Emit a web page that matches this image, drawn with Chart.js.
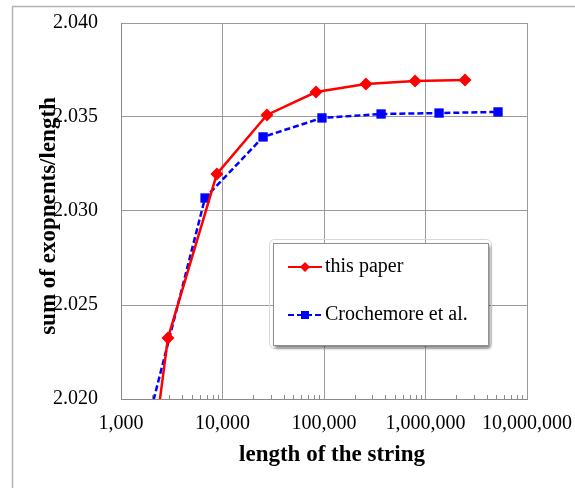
<!DOCTYPE html>
<html>
<head>
<meta charset="utf-8">
<script src="https://cdn.jsdelivr.net/npm/chart.js@4.4.0/dist/chart.umd.min.js"></script>
<style>
  html, body { margin: 0; padding: 0; background: #fff; }
</style>
</head>
<body>
<canvas id="expChart" width="575" height="488"></canvas>
<script>
// string lengths and sum of exponents / length
const paperLengths = [950, 2900, 8800, 27400, 83400, 259000, 789000, 2450000];
const paperValues = [2.0032, 2.02324, 2.03197, 2.03511, 2.03633, 2.03676, 2.03691, 2.03697];
const crochLengths = [1800, 6730, 25100, 95500, 365000, 1360000, 5180000];
const crochValues = [2.01856, 2.03069, 2.03394, 2.03495, 2.03516, 2.03521, 2.03527];

const xTicks = [1000, 10000, 100000, 1000000, 10000000];
const seriesNames = ['this paper', 'Crochemore et al.'];
const xTitle = 'length of the string';
const yTitle = 'sum of exopnents/length';

const FONT = '"Liberation Serif", "Times New Roman", serif';
const RED = '#ff0000';
const BLUE = '#0000ff';

function toPoints(xs, ys) {
    return xs.map((x, i) => ({ x: x, y: ys[i] }));
}

// frame, minor ticks, axis titles and the boxed legend
const decorations = {
    id: 'decorations',
    beforeDraw(chart) {
        const ctx = chart.ctx;
        ctx.save();
        ctx.strokeStyle = '#b4b4b4';
        ctx.lineWidth = 1.5;
        ctx.beginPath();
        ctx.moveTo(12.5, 488);
        ctx.lineTo(12.5, 6.5);
        ctx.lineTo(575, 6.5);
        ctx.stroke();
        ctx.restore();
    },
    afterDraw(chart) {
        const ctx = chart.ctx;
        const area = chart.chartArea;
        const xs = chart.scales.x;

        // minor ticks on the log axis
        ctx.save();
        ctx.strokeStyle = '#8c8c8c';
        ctx.lineWidth = 1;
        ctx.beginPath();
        for (let p = 3; p < 7; p++) {
            for (let m = 2; m <= 9; m++) {
                const px = Math.round(xs.getPixelForValue(m * Math.pow(10, p))) + 0.5;
                ctx.moveTo(px, area.bottom);
                ctx.lineTo(px, area.bottom - 4);
            }
        }
        ctx.stroke();

        // axis titles
        ctx.fillStyle = '#000';
        ctx.font = 'bold 23px ' + FONT;
        ctx.textAlign = 'center';
        ctx.textBaseline = 'alphabetic';
        ctx.fillText(xTitle, 332, 461);
        ctx.translate(55, 216);
        ctx.rotate(-Math.PI / 2);
        ctx.fillText(yTitle, 0, 0);
        ctx.restore();

        // legend box
        const bx = 273, by = 243, bw = 215, bh = 102;
        ctx.save();
        ctx.strokeStyle = '#d8d8d8';
        ctx.lineWidth = 1;
        ctx.beginPath();
        ctx.roundRect(bx - 3.5, by - 3.5, bw + 7, bh + 7, 5);
        ctx.stroke();
        ctx.shadowColor = 'rgba(0,0,0,0.55)';
        ctx.shadowOffsetX = 2;
        ctx.shadowOffsetY = 3;
        ctx.shadowBlur = 3;
        ctx.fillStyle = '#fff';
        ctx.fillRect(bx, by, bw, bh);
        ctx.shadowColor = 'transparent';
        ctx.strokeStyle = '#909090';
        ctx.strokeRect(bx + 0.5, by + 0.5, bw, bh);

        const rows = [
            { y: 267, color: RED, dash: [], marker: 'diamond' },
            { y: 315, color: BLUE, dash: [6, 3], marker: 'square' }
        ];
        rows.forEach((r, i) => {
            ctx.strokeStyle = r.color;
            ctx.fillStyle = r.color;
            ctx.lineWidth = 2.2;
            ctx.setLineDash(r.dash);
            ctx.beginPath();
            ctx.moveTo(288, r.y);
            ctx.lineTo(322, r.y);
            ctx.stroke();
            ctx.setLineDash([]);
            ctx.beginPath();
            if (r.marker === 'diamond') {
                ctx.moveTo(305, r.y - 5);
                ctx.lineTo(310, r.y);
                ctx.lineTo(305, r.y + 5);
                ctx.lineTo(300, r.y);
                ctx.closePath();
            } else {
                ctx.rect(301, r.y - 4, 8, 8);
            }
            ctx.fill();
            ctx.fillStyle = '#000';
            ctx.font = '20px ' + FONT;
            ctx.textAlign = 'left';
            ctx.textBaseline = 'middle';
            ctx.fillText(seriesNames[i], 325, r.y);
        });
        ctx.restore();
    }
};

const chart = new Chart(document.getElementById('expChart'), {
    type: 'line',
    data: {
        datasets: [{
            label: seriesNames[0],
            data: toPoints(paperLengths, paperValues),
            borderColor: RED,
            backgroundColor: RED,
            borderWidth: 2.5,
            pointStyle: 'rectRot',
            pointRadius: 6.5,
            pointBorderWidth: 0,
            clip: 0
        }, {
            label: seriesNames[1],
            data: toPoints(crochLengths, crochValues),
            borderColor: BLUE,
            backgroundColor: BLUE,
            borderWidth: 2.5,
            borderDash: [6, 3],
            pointStyle: 'rect',
            pointRadius: 6.6,
            pointBorderWidth: 0,
            clip: 0
        }]
    },
    options: {
        responsive: false,
        animation: false,
        devicePixelRatio: 1,
        layout: { padding: { left: 0, top: 23, right: 48, bottom: 0 } },
        plugins: {
            legend: { display: false },
            tooltip: { enabled: false }
        },
        scales: {
            x: {
                type: 'logarithmic',
                min: 1000,
                max: 10000000,
                afterBuildTicks: (scale) => {
                    scale.ticks = xTicks.map(v => ({ value: v }));
                },
                afterFit: (scale) => {
                    scale.height = 89;
                    scale.paddingLeft = 0;
                    scale.paddingRight = 0;
                },
                ticks: {
                    color: '#000',
                    font: { family: FONT, size: 20 },
                    padding: 13,
                    maxRotation: 0,
                    autoSkip: false,
                    callback: (v) => Number(v).toLocaleString('en-US')
                },
                grid: { color: '#9a9a9a', lineWidth: 1, drawTicks: false },
                border: { color: '#8a8a8a', width: 1 }
            },
            y: {
                min: 2.02,
                max: 2.04,
                afterFit: (scale) => {
                    scale.width = 121;
                    scale.paddingTop = 0;
                    scale.paddingBottom = 0;
                },
                ticks: {
                    stepSize: 0.005,
                    color: '#000',
                    font: { family: FONT, size: 20 },
                    padding: 23,
                    callback: (v) => Number(v).toFixed(3)
                },
                grid: { color: '#9a9a9a', lineWidth: 1, drawTicks: false },
                border: { color: '#8a8a8a', width: 1 }
            }
        }
    },
    plugins: [decorations]
});
</script>
</body>
</html>
